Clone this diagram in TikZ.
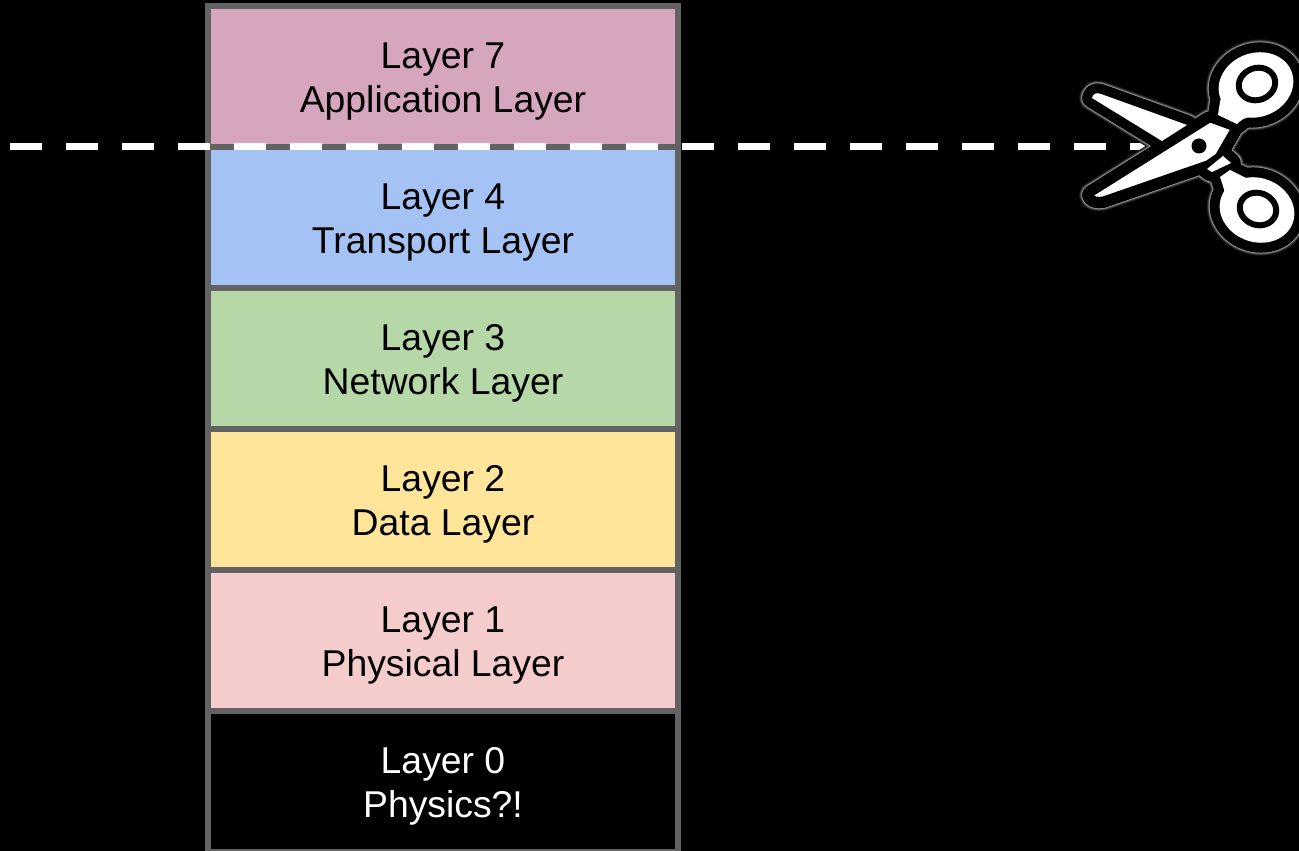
\documentclass[tikz,border=0pt]{standalone}
\usepackage{xcolor}
\usepackage{fontspec}
\setmainfont{Liberation Sans}
\usetikzlibrary{positioning}
\definecolor{framegray}{HTML}{626262}
\definecolor{applayer}{HTML}{D5A6BD}
\definecolor{translayer}{HTML}{A4C2F4}
\definecolor{netlayer}{HTML}{B6D7A8}
\definecolor{datalayer}{HTML}{FFE599}
\definecolor{phylayer}{HTML}{F4CCCC}
\tikzset{
  layerbox/.style={draw=framegray,line width=0.12cm,minimum width=9.4cm,minimum height=2.82cm,
    outer sep=0pt,inner sep=0pt,align=center,text=black,
    font=\fontsize{21.25pt}{25pt}\selectfont},
  cutline/.style={white,line width=0.14cm,dash pattern=on 0.64cm off 0.48cm},
  bladeline/.style={line join=round,line cap=round}
}
\newcommand{\layerlabel}[2]{\rule{0pt}{0.72cm}#1\\#2}
\newcommand{\backparts}{
  (1092,98) .. controls (1093,94) and (1096,92) .. (1101,94) -- (1187,125) -- (1162,141) -- cycle
  (1256,85) ellipse [x radius=38,y radius=32,rotate=20]
  (1257,210) ellipse [x radius=38,y radius=32,rotate=-20]
  (1218,115) .. controls (1220,100) and (1222,90) .. (1228,80) -- (1250,117) .. controls (1244,118) and (1241,120) .. (1237,124) -- cycle
  (1220,177) -- (1230,170) -- (1250,180) -- (1228,212) .. controls (1227,200) and (1224,188) .. (1220,177) -- cycle
}
\newcommand{\frontblade}{
  (1092,195) .. controls (1093,198) and (1097,199) .. (1103,198) -- (1207,162) -- (1217,155) -- (1232,129) -- (1210,121) -- cycle
}
\newcommand{\smallpiece}{
  (1207,169) -- (1223,156) -- (1231,163) -- (1212,172) -- cycle
}
\begin{document}
\begin{tikzpicture}[x=0.02cm,y=-0.02cm]
\useasboundingbox[fill=black] (0,0) rectangle (1299,851);
% the stack
\node[layerbox,fill=applayer] (layerseven) at (443,76.5) {\layerlabel{Layer 7}{Application Layer}};
\node[layerbox,fill=translayer,below=0pt of layerseven] (layerfour) {\layerlabel{Layer 4}{Transport Layer}};
\node[layerbox,fill=netlayer,below=0pt of layerfour] (layerthree) {\layerlabel{Layer 3}{Network Layer}};
\node[layerbox,fill=datalayer,below=0pt of layerthree] (layertwo) {\layerlabel{Layer 2}{Data Layer}};
\node[layerbox,fill=phylayer,below=0pt of layertwo] (layerone) {\layerlabel{Layer 1}{Physical Layer}};
\node[layerbox,fill=black,text=white,below=0pt of layerone] (layerzero) {\layerlabel{Layer 0}{Physics?!}};
% cut
\coordinate (cutleft) at (10,147);
\coordinate (cutright) at (1165,147);
\draw[cutline] (cutleft) -- (cutright);
% scissors
\foreach \w/\s in {0.52/8,0.49/18,0.46/35,0.43/55,0.41/75,0.40/0} {
  \draw[bladeline,line width=\w cm,draw=white!\s!black] \backparts \frontblade \smallpiece;
}
\fill[white] \backparts \smallpiece;
\draw[bladeline,line width=0.06cm,draw=black,fill=white] \frontblade;
\fill[black] (1199,146) circle (7.5);
\filldraw[black,fill=white,line width=0.12cm] (1257,84) ellipse [x radius=18.5,y radius=16,rotate=20];
\filldraw[black,fill=white,line width=0.12cm] (1258,209) ellipse [x radius=18.5,y radius=16,rotate=-20];
\end{tikzpicture}
\end{document}
